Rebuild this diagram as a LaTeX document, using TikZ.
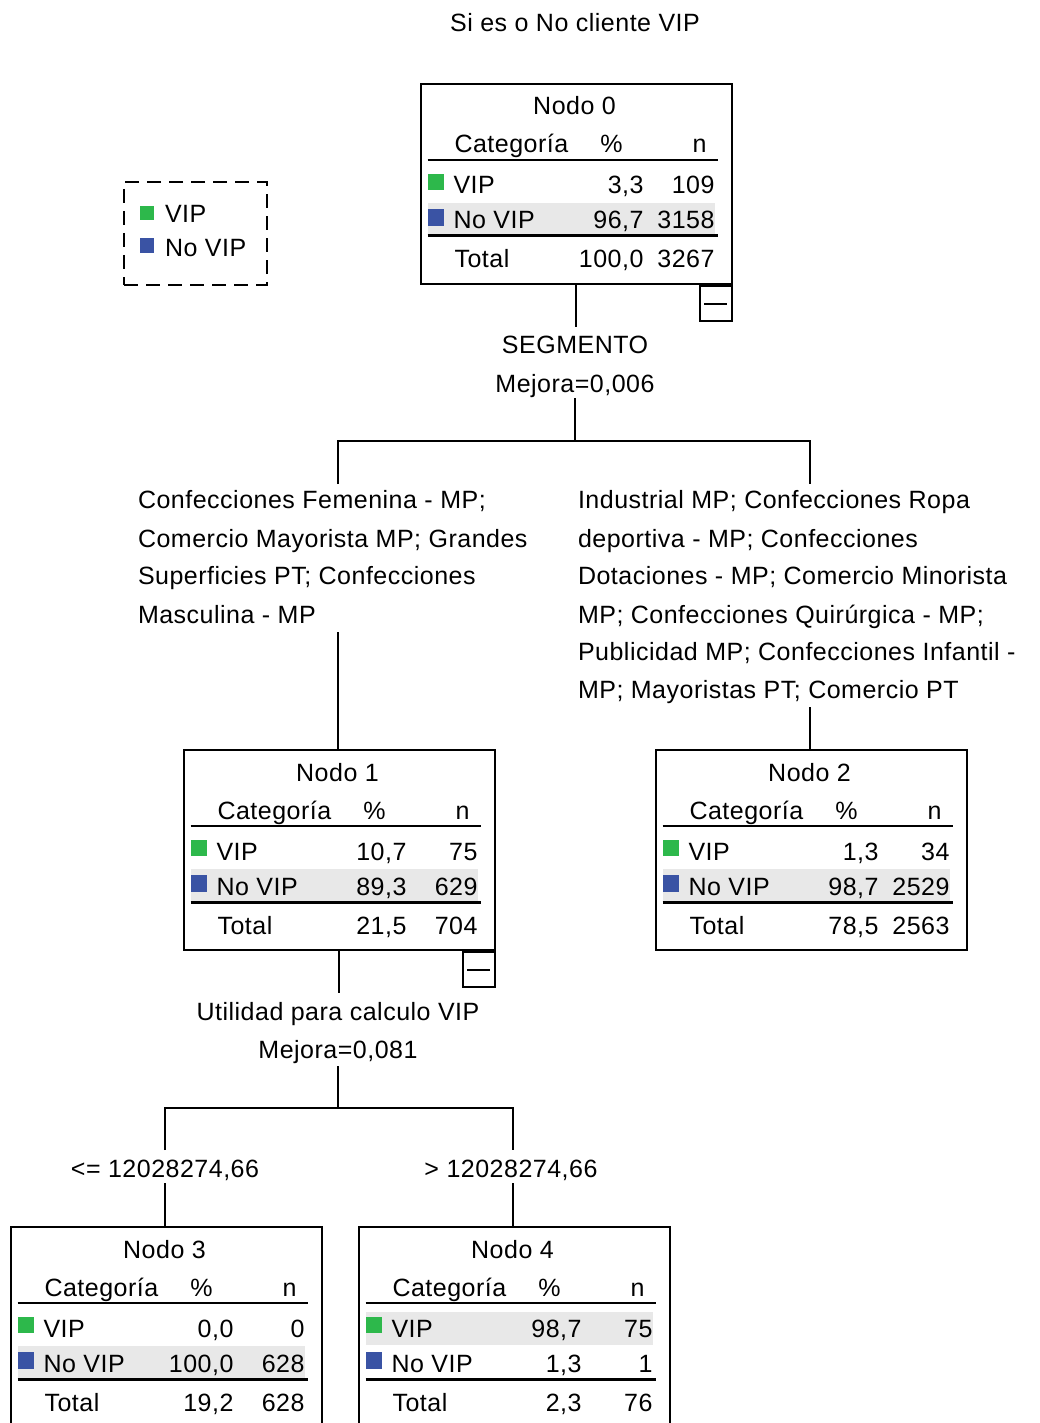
\documentclass[tikz,border=0pt]{standalone}
\usepackage{fontspec}
\setmainfont{Liberation Sans}[LetterSpace=2]
\definecolor{vipg}{HTML}{2DB84B}
\definecolor{vipb}{HTML}{3A53A4}
\definecolor{bandg}{HTML}{E8E8E8}
\tikzset{
  txt/.style={inner sep=0pt, outer sep=0pt, font=\fontsize{25}{30}\selectfont, text=black},
  tl/.style={txt, anchor=base west},
  tr/.style={txt, anchor=base east},
  tc/.style={txt, anchor=base},
  tree/.style={draw=black, line width=2pt},
  rule/.style={draw=black, line width=2pt},
  rulethick/.style={draw=black, line width=3pt},
  nbox/.style={draw=black, line width=2pt, minimum width=311pt, minimum height=200pt, inner sep=0pt, anchor=north west},
  cbox/.style={draw=black, line width=2pt, fill=white, minimum width=32pt, minimum height=35pt, inner sep=0pt, anchor=north east},
  legbox/.style={draw=black, line width=2pt, dash pattern=on 14pt off 8pt, minimum width=143pt, minimum height=103pt, inner sep=0pt, anchor=north west}
}
\newcommand\ttot[2]{%
  \node[tr] at (224,185) {#1};
  \node[tr] at (295,185) {#2};}
% #1 name, #2 x,y, #3 title, #4 band top, #5 vip pct, #6 vip n, #7 novip pct, #8 novip n, #9 {total pct}{total n}
\newcommand\tnode[9]{%
\begin{scope}[shift={(#2)}]
  \fill[bandg] (8,#4) rectangle (295,{#4+33});
  \node[nbox] (#1) at (0,0) {};
  \node[tc] (#1-t) at (155,32) {#3};
  \node[tl] (#1-h1) at (35,70) {Categoría};
  \node[tc] (#1-h2) at (192,70) {\%};
  \node[tr] (#1-h3) at (287,70) {n};
  \draw[rule] (8,77) -- (298,77);
  \fill[vipg] (8,91) rectangle (24,107);
  \node[tl] (#1-a1) at (34,111) {VIP};
  \node[tr] (#1-a2) at (224,111) {#5};
  \node[tr] (#1-a3) at (295,111) {#6};
  \fill[vipb] (8,126) rectangle (24,143);
  \node[tl] (#1-b1) at (34,146) {No VIP};
  \node[tr] (#1-b2) at (224,146) {#7};
  \node[tr] (#1-b3) at (295,146) {#8};
  \draw[rulethick] (8,153) -- (298,153);
  \node[tl] (#1-c1) at (35,185) {Total};
  \ttot#9
\end{scope}}
\newcommand\collapse[1]{%
  \node[cbox] (#1-cb) at (#1.south east) {};
  \draw[rule] ([xshift=-11.5pt]#1-cb.center) -- ([xshift=11.5pt]#1-cb.center);}

\begin{document}
\begin{tikzpicture}[x=1pt, y=-1pt]
\clip (0,0) rectangle (1040,1423);
\fill[white] (0,0) rectangle (1040,1423);

\node[tc] (title) at (575,32) {Si es o No cliente VIP};

% legend
\node[legbox] (leg) at (123,181) {};
\fill[vipg] (140,206) rectangle (154,220);
\node[tl] (legv) at (165,223) {VIP};
\fill[vipb] (140,238) rectangle (154,253);
\node[tl] (legn) at (165,256) {No VIP};

% nodes
\tnode{n0}{419.5,83}{Nodo 0}{120}{3,3}{109}{96,7}{3158}{{100,0}{3267}}
\collapse{n0}
\tnode{n1}{182.5,749}{Nodo 1}{120}{10,7}{75}{89,3}{629}{{21,5}{704}}
\collapse{n1}
\tnode{n2}{654.5,749}{Nodo 2}{120}{1,3}{34}{98,7}{2529}{{78,5}{2563}}
\tnode{n3}{9.5,1226}{Nodo 3}{120}{0,0}{0}{100,0}{628}{{19,2}{628}}
\tnode{n4}{357.5,1226}{Nodo 4}{86}{98,7}{75}{1,3}{1}{{2,3}{76}}

% split 1
\node[tc] (s1a) at (575,353) {SEGMENTO};
\node[tc] (s1b) at (575,392) {Mejora=0,006};
\coordinate (s1top) at (575,327);
\coordinate (s1bot) at (575,398);
\coordinate (s1bar) at (575,441);
\coordinate (b1L) at (338,441);
\coordinate (b1R) at (810,441);
\coordinate (lAtop) at (338,484);
\coordinate (lBtop) at (810,484);
\coordinate (lAbot) at (338,632);
\coordinate (lBbot) at (810,707);
\draw[tree] (n0.south) -- (n0.south |- s1top);
\draw[tree] (s1bot) -- (s1bar);
\draw[tree] (lAtop) -- (b1L) -- (b1R) -- (lBtop);
\draw[tree] (lAbot) -- (lAbot |- n1.north);
\draw[tree] (lBbot) -- (lBbot |- n2.north);

\node[tl] (lA1) at (138,508) {Confecciones Femenina - MP;};
\node[tl] (lA2) at (138,547) {Comercio Mayorista MP; Grandes};
\node[tl] (lA3) at (138,584) {Superficies PT; Confecciones};
\node[tl] (lA4) at (138,623) {Masculina - MP};

\node[tl] (lB1) at (578,508) {Industrial MP; Confecciones Ropa};
\node[tl] (lB2) at (578,547) {deportiva - MP; Confecciones};
\node[tl] (lB3) at (578,584) {Dotaciones - MP; Comercio Minorista};
\node[tl] (lB4) at (578,623) {MP; Confecciones Quirúrgica - MP;};
\node[tl] (lB5) at (578,660) {Publicidad MP; Confecciones Infantil -};
\node[tl] (lB6) at (578,698) {MP; Mayoristas PT; Comercio PT};

% split 2
\node[tc] (s2a) at (338,1020) {Utilidad para calculo VIP};
\node[tc] (s2b) at (338,1058) {Mejora=0,081};
\coordinate (s2top) at (338,993);
\coordinate (s2bot) at (338,1066);
\coordinate (s2bar) at (338,1108);
\coordinate (b2L) at (165,1108);
\coordinate (b2R) at (513,1108);
\coordinate (lCtop) at (165,1150);
\coordinate (lDtop) at (513,1150);
\coordinate (lCbot) at (165,1183);
\coordinate (lDbot) at (513,1183);
\draw[tree] (n1.south) -- (n1.south |- s2top);
\draw[tree] (s2bot) -- (s2bar);
\draw[tree] (lCtop) -- (b2L) -- (b2R) -- (lDtop);
\draw[tree] (lCbot) -- (lCbot |- n3.north);
\draw[tree] (lDbot) -- (lDbot |- n4.north);
\node[tc] (lC) at (165,1177) {<= 12028274,66};
\node[tc] (lD) at (511,1177) {> 12028274,66};
\end{tikzpicture}
\end{document}
